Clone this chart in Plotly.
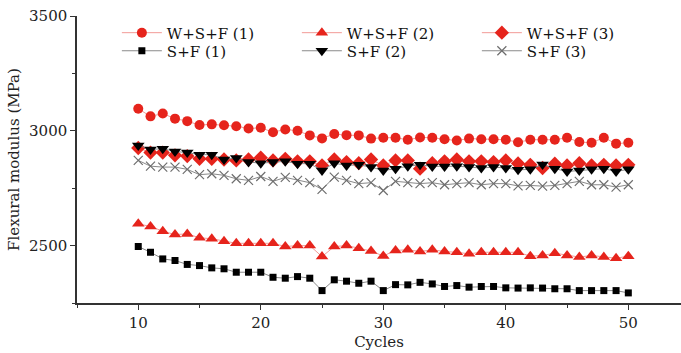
import plotly.graph_objects as go

cycles = list(range(10, 51))

wsf1 = [3096, 3063, 3075, 3053, 3042, 3025, 3028, 3024, 3020, 3010, 3013, 2994, 3006, 3000, 2980,
        2967, 2986, 2981, 2980, 2966, 2970, 2970, 2961, 2971, 2970, 2963, 2958, 2966, 2963, 2963,
        2961, 2950, 2961, 2961, 2961, 2970, 2951, 2948, 2970, 2944, 2948]
wsf2 = [2595, 2583, 2563, 2548, 2551, 2534, 2530, 2519, 2510, 2510, 2510, 2510, 2496, 2500, 2500,
        2452, 2496, 2500, 2489, 2476, 2455, 2479, 2482, 2474, 2482, 2474, 2471, 2464, 2471, 2471,
        2471, 2471, 2454, 2457, 2467, 2457, 2450, 2457, 2450, 2445, 2454]
wsf3 = [2925, 2905, 2905, 2893, 2890, 2878, 2878, 2875, 2871, 2875, 2883, 2871, 2878, 2867, 2867,
        2849, 2875, 2864, 2859, 2875, 2849, 2871, 2871, 2835, 2859, 2867, 2875, 2867, 2867, 2864,
        2871, 2858, 2852, 2838, 2857, 2849, 2859, 2849, 2852, 2849, 2852]
sf1 = [2496, 2471, 2442, 2435, 2418, 2413, 2403, 2399, 2384, 2384, 2384, 2362, 2358, 2365, 2358,
       2304, 2351, 2345, 2336, 2345, 2304, 2330, 2329, 2340, 2333, 2322, 2326, 2319, 2322, 2322,
       2316, 2315, 2316, 2315, 2312, 2312, 2304, 2304, 2304, 2304, 2294]
sf2 = [2936, 2919, 2922, 2910, 2905, 2896, 2896, 2875, 2881, 2864, 2859, 2864, 2867, 2857, 2857,
       2827, 2859, 2849, 2852, 2842, 2827, 2835, 2846, 2852, 2845, 2845, 2846, 2842, 2838, 2842,
       2838, 2830, 2832, 2853, 2835, 2823, 2827, 2832, 2835, 2823, 2832]
sf3 = [2871, 2846, 2842, 2842, 2832, 2809, 2813, 2806, 2791, 2784, 2801, 2780, 2797, 2784, 2774,
       2745, 2798, 2784, 2770, 2774, 2740, 2780, 2774, 2770, 2774, 2765, 2770, 2774, 2765, 2770,
       2770, 2760, 2762, 2759, 2762, 2770, 2780, 2765, 2765, 2755, 2765]

names = ["W+S+F (1)", "W+S+F (2)", "W+S+F (3)", "S+F (1)", "S+F (2)", "S+F (3)"]
series = [wsf1, wsf2, wsf3, sf1, sf2, sf3]

RED = "#e6241c"
RED_LINE = "#f29a96"
BLACK = "#000000"
GRAY_LINE = "#8a8a8a"

styles = [
    dict(symbol="circle", size=10, color=RED, line=RED_LINE, lw=0, lg="legend"),
    dict(symbol="triangle-up", size=11, color=RED, line=RED_LINE, lw=0, lg="legend"),
    dict(symbol="diamond", size=11, color=RED, line=RED_LINE, lw=0, lg="legend"),
    dict(symbol="square", size=7, color=BLACK, line=GRAY_LINE, lw=0, lg="legend2"),
    dict(symbol="triangle-down", size=11, color=BLACK, line=GRAY_LINE, lw=0, lg="legend2"),
    dict(symbol="x-thin-open", size=9, color="#6e6e6e", line=GRAY_LINE, lw=1.2, lg="legend2"),
]

fig = go.Figure()
for name, vals, st in zip(names, series, styles):
    fig.add_trace(go.Scatter(
        x=cycles, y=vals, name=name, mode="lines+markers", legend=st["lg"],
        line=dict(color=st["line"], width=1),
        marker=dict(symbol=st["symbol"], size=st["size"], color=st["color"],
                    line=dict(color=st["color"], width=st["lw"])),
    ))

font_family = "DejaVu Serif, serif"
legend_common = dict(
    orientation="h", xanchor="left", yanchor="middle",
    entrywidth=125, entrywidthmode="pixels",
    font=dict(family=font_family, size=15, color="#111"),
    bgcolor="rgba(0,0,0,0)", itemwidth=40,
)

fig.update_layout(
    width=681, height=353,
    margin=dict(l=77, r=0, t=16, b=50),
    paper_bgcolor="white", plot_bgcolor="white",
    font=dict(family=font_family, size=15, color="#222"),
    showlegend=True,
    legend=dict(x=0.066, y=0.941, **legend_common),
    legend2=dict(x=0.066, y=0.878, **legend_common),
    xaxis=dict(
        range=[5, 54.3], tickvals=[10, 20, 30, 40, 50],
        showline=True, linecolor="#333", linewidth=1.5, mirror=False,
        ticks="outside", ticklen=5, tickwidth=1.2, tickcolor="#333",
        minor=dict(tickvals=[5, 15, 25, 35, 45], ticks="outside", ticklen=3, tickcolor="#333"),
        showgrid=False, zeroline=False, automargin=False,
        tickfont=dict(size=15),
        title=dict(text="Cycles", font=dict(size=15), standoff=6),
    ),
    yaxis=dict(
        range=[2250, 3500], tickvals=[2500, 3000, 3500],
        showline=True, linecolor="#333", linewidth=1.5, mirror=False,
        ticks="outside", ticklen=5, tickwidth=1.2, tickcolor="#333",
        minor=dict(tickvals=[2250, 2750, 3250], ticks="outside", ticklen=3, tickcolor="#333"),
        showgrid=False, zeroline=False, automargin=False,
        tickfont=dict(size=15),
        title=dict(text="Flexural modulus (MPa)", font=dict(size=15), standoff=6),
    ),
)

fig.write_html("out.html", config={"displayModeBar": False},
               post_script="document.body.style.margin='0';")
